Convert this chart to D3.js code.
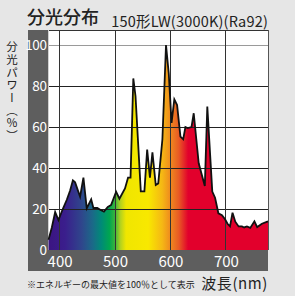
<!DOCTYPE html>
<html>
<head>
<meta charset="utf-8">
<title>分光分布 150形LW(3000K)(Ra92)</title>
<script src="https://d3js.org/d3.v7.min.js"></script>
<style>
  body { margin: 0; background: #e6e6e6; }
  svg { display: block; font-family: "Noto Sans CJK JP", "Noto Sans", sans-serif; }
</style>
</head>
<body>
<div id="container"></div>
<script>
// spectrum (nm, % of max)
const wavelengths = [380, 386, 392, 398, 405, 413, 419, 424, 428, 437, 443, 449, 457, 461, 468, 474, 480, 487, 493,
  502, 508, 518, 523.5, 528, 533, 537, 546.5, 553, 558, 563, 567.5, 573.5, 578, 585.5, 592, 597, 602, 607, 612,
  618, 623, 627, 631, 638, 642, 651, 662, 666.5, 675.5, 680.5, 686.5, 693, 698.5, 703, 707.5, 712, 717, 723,
  729, 733, 738, 744, 751.5, 756.5, 765, 776];
const powers = [5, 11, 18.5, 14.6, 19.5, 24.5, 29, 34, 33, 26, 35.3, 20.3, 24.7, 20.5, 20.5, 19.5, 18.7, 21, 22,
  28.4, 25, 30, 35.3, 35.3, 83.7, 75, 28.6, 28.6, 49, 35.3, 47.6, 31.7, 32.5, 54, 100, 86, 62, 73.5, 70.7,
  55.3, 54, 60, 59.5, 60, 66.7, 42.3, 31.2, 70, 28.5, 25.5, 17.9, 17, 15, 12.8, 11.5, 18.2, 13.8, 11.5,
  11.5, 11, 11.5, 10.8, 14, 11.2, 12.8, 14];
const xTicks = [400, 500, 600, 700];
const yTicks = [0, 20, 40, 60, 80, 100];

const title = "分光分布";
const subtitle = "150形LW(3000K)(Ra92)";
const yLabel = "分光パワー（％）";
const xLabel = "波長(nm)";
const note = "※エネルギーの最大値を100％として表示";

// rainbow under the curve
const rainbowNm = [380, 410, 440, 460, 475, 490, 500, 510, 520, 560, 585, 600, 615, 632, 776];
const rainbowColors = ["#3b1482", "#3a1e8c", "#2f468c", "#1a6a88", "#008a78", "#00a650", "#3cb43c", "#b4d21e",
  "#f0e600", "#f8e800", "#f5b814", "#ef8a1e", "#e85a24", "#e2002c", "#e2002c"];

const data = wavelengths.map((nm, i) => ({ nm: nm, p: powers[i] }));

const width = 295, height = 296;
const pLeft = 48.5, pRight = 268, pTop = 30, pBottom = 250;
const band = "#5e5e5e";

const svg = d3.select("#container").append("svg")
    .attr("width", width)
    .attr("height", height);

const xScale = d3.scaleLinear().domain([380, 776]).range([pLeft, pRight]);
const yScale = d3.scaleLinear().domain([0, 100]).range([250, 45]);

// gradient
const grad = svg.append("defs").append("linearGradient")
    .attr("id", "spec")
    .attr("gradientUnits", "userSpaceOnUse")
    .attr("x1", xScale(380)).attr("x2", xScale(776))
    .attr("y1", 0).attr("y2", 0);
grad.selectAll("stop")
    .data(rainbowNm)
    .enter().append("stop")
    .attr("offset", d => (d - 380) / (776 - 380))
    .attr("stop-color", (d, i) => rainbowColors[i]);

// dark bands for tick labels
svg.append("rect").attr("x", 28).attr("y", pTop).attr("width", pLeft - 28).attr("height", 271 - pTop).attr("fill", band);
svg.append("rect").attr("x", 28).attr("y", pBottom).attr("width", pRight - 28).attr("height", 21).attr("fill", band);
svg.append("rect").attr("x", pLeft).attr("y", pTop).attr("width", pRight - pLeft).attr("height", pBottom - pTop).attr("fill", "#fff");

// spectrum fill
const area = d3.area()
    .x(d => xScale(d.nm))
    .y0(yScale(0))
    .y1(d => yScale(d.p));
svg.append("path").datum(data).attr("d", area).attr("fill", "url(#spec)");

// grid
const grid = svg.append("g").attr("shape-rendering", "crispEdges");
grid.selectAll("line.h")
    .data(yTicks.filter(v => v > 0))
    .enter().append("line")
    .attr("x1", pLeft).attr("x2", pRight)
    .attr("y1", d => yScale(d)).attr("y2", d => yScale(d))
    .attr("stroke", d => d === 100 ? "#9a9a9a" : "#222")
    .attr("stroke-width", 1);
grid.selectAll("line.v")
    .data(xTicks)
    .enter().append("line")
    .attr("x1", d => xScale(d)).attr("x2", d => xScale(d))
    .attr("y1", pTop).attr("y2", pBottom)
    .attr("stroke", "#333")
    .attr("stroke-width", 1);
grid.append("line").attr("x1", pLeft).attr("x2", pRight).attr("y1", pTop + 0.5).attr("y2", pTop + 0.5).attr("stroke", "#333");
grid.append("line").attr("x1", pRight).attr("x2", pRight).attr("y1", pTop).attr("y2", pBottom).attr("stroke", "#555");

// outline
const line = d3.line()
    .x(d => xScale(d.nm))
    .y(d => yScale(d.p));
svg.append("path").datum(data)
    .attr("d", line)
    .attr("fill", "none")
    .attr("stroke", "#111")
    .attr("stroke-width", 1.8)
    .attr("stroke-linejoin", "miter");

// axes (labels only)
svg.append("g")
    .attr("transform", "translate(" + (pLeft - 0.5) + ",0)")
    .call(d3.axisLeft(yScale).tickValues(yTicks).tickSize(0).tickPadding(1.5))
    .attr("font-family", null)
    .attr("font-size", 13.5)
    .call(g => g.select(".domain").remove())
    .selectAll("text")
    .attr("fill", "#fff")
    .attr("letter-spacing", -0.4);

svg.append("g")
    .attr("transform", "translate(0," + pBottom + ")")
    .call(d3.axisBottom(xScale).tickValues(xTicks).tickSize(0).tickPadding(6))
    .attr("font-family", null)
    .attr("font-size", 15)
    .call(g => g.select(".domain").remove())
    .selectAll("text")
    .attr("fill", "#fff");

// texts
svg.append("text")
    .attr("x", 27).attr("y", 23.5)
    .attr("font-size", 18)
    .attr("font-weight", 500)
    .attr("fill", "#222")
    .text(title);

svg.append("text")
    .attr("x", 268).attr("y", 26.5)
    .attr("text-anchor", "end")
    .attr("font-size", 14.5)
    .attr("letter-spacing", 0.2)
    .attr("fill", "#222")
    .text(subtitle);

svg.append("text")
    .attr("x", 12).attr("y", 41)
    .style("writing-mode", "vertical-rl")
    .attr("font-size", 11.5)
    .attr("letter-spacing", 1.2)
    .attr("fill", "#222")
    .text(yLabel);

svg.append("text")
    .attr("x", 27).attr("y", 287.5)
    .attr("font-size", 9)
    .attr("fill", "#222")
    .text(note);

svg.append("text")
    .attr("x", 268).attr("y", 288.5)
    .attr("text-anchor", "end")
    .attr("font-size", 15)
    .attr("letter-spacing", 0.6)
    .attr("fill", "#222")
    .text(xLabel);
</script>
</body>
</html>
